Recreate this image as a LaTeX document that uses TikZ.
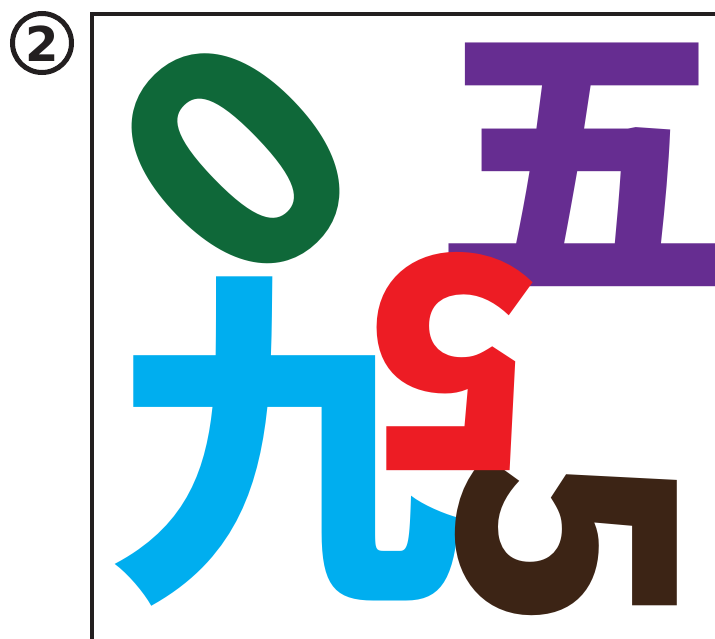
\documentclass[tikz,border=0pt]{standalone}
\usepackage{fontspec}
\newfontfamily\cjk{Noto Sans CJK SC}
\newfontfamily\dejavu{DejaVu Sans}
\definecolor{cgreen}{HTML}{0F6839}
\definecolor{ccyan}{HTML}{00AEEF}
\definecolor{cpurple}{HTML}{662D91}
\definecolor{cred}{HTML}{ED1C24}
\definecolor{cbrown}{HTML}{3C2415}
\definecolor{cblack}{HTML}{231F20}
\tikzset{glyph/.style={inner sep=0pt, outer sep=0pt, anchor=center, font=\cjk\bfseries}}
\begin{document}
\begin{tikzpicture}[x=1pt,y=-1pt]
\useasboundingbox (0,0) rectangle (715,639);
\fill[white] (0,0) rectangle (715,639);
% frame
\draw[cblack, line width=4pt] (92,639) -- (92,14) -- (715,14);
% circled 2
\draw[cblack, line width=5pt] (42,43) circle (29.5);
\node[inner sep=0pt, text=cblack, font=\dejavu\bfseries\fontsize{48}{48}\selectfont] (two) at (42,44) {2};
% glyphs
\node[glyph, text=cpurple, font=\cjk\bfseries\fontsize{298}{298}\selectfont] (wu) at (582,165) {五};
\node[glyph, text=cgreen, rotate=44, font=\cjk\bfseries\fontsize{310}{310}\selectfont] (zero) at (236,159) {0};
\node[glyph, text=ccyan, font=\cjk\bfseries\fontsize{352}{352}\selectfont] (jiu) at (285,442) {九};
\node[glyph, text=cbrown, rotate=-90, font=\cjk\bfseries\fontsize{300}{300}\selectfont] (fiveB) at (566,541) {5};
\node[glyph, text=cred, rotate=180, font=\cjk\bfseries\fontsize{295}{295}\selectfont] (fiveA) at (451,362) {5};
\end{tikzpicture}
\end{document}
